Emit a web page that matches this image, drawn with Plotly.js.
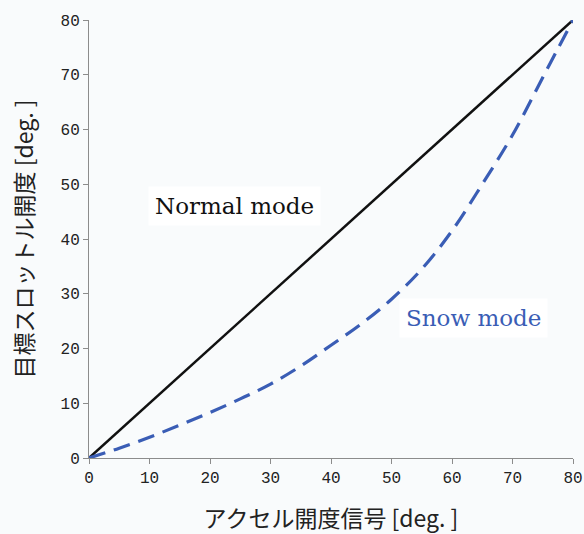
<!DOCTYPE html>
<html>
<head>
<meta charset="utf-8">
<script src="https://cdn.plot.ly/plotly-3.0.1.min.js"></script>
<style>html,body{margin:0;padding:0;background:#f9fbfc;}</style>
</head>
<body>
<div id="chart" style="width:584px;height:534px;"></div>
<script>
const normalX = [0, 80];
const normalY = [0, 80];
const snowX = [0, 5, 10, 15, 20, 25, 30, 35, 40, 45, 50, 55, 60, 65, 70, 75, 80];
const snowY = [0, 1.8, 3.8, 6, 8.3, 10.8, 13.5, 16.8, 20.6, 24.5, 29, 34.5, 41.5, 50, 59, 69.5, 80];
const tickVals = [0, 10, 20, 30, 40, 50, 60, 70, 80];
const xTitle = 'アクセル開度信号 [deg. ]';
const yTitle = '目標スロットル開度 [deg. ]';
const normalLabel = 'Normal mode';
const snowLabel = 'Snow mode';

const traces = [
  {x: normalX, y: normalY, mode: 'lines', line: {color: '#111111', width: 2.5}, hoverinfo: 'skip'},
  {x: snowX, y: snowY, mode: 'lines', line: {color: '#3a5db5', width: 3.2, dash: '17px,9px', shape: 'spline', smoothing: 1}, hoverinfo: 'skip'}
];

const axisCommon = {
  range: [0, 80], tickvals: tickVals, showgrid: false, zeroline: false,
  showline: true, linecolor: '#8c8c8c', linewidth: 1,
  ticks: 'outside', ticklen: 5, tickcolor: '#8c8c8c',
  tickfont: {family: 'Liberation Mono, monospace', size: 16, color: '#222'}
};

const layout = {
  width: 584, height: 534,
  margin: {l: 89, r: 11, t: 20, b: 76},
  paper_bgcolor: '#f9fbfc', plot_bgcolor: '#f9fbfc',
  showlegend: false,
  xaxis: Object.assign({}, axisCommon, {
    title: {text: xTitle, font: {family: 'Noto Sans CJK JP, Liberation Serif, serif', size: 23, color: '#222'}, standoff: 24}
  }),
  yaxis: Object.assign({}, axisCommon, {
    title: {text: yTitle, font: {family: 'Noto Sans CJK JP, Liberation Serif, serif', size: 23, color: '#222'}, standoff: 20}
  }),
  annotations: [
    {x: 24, y: 46, xref: 'x', yref: 'y', text: normalLabel, showarrow: false,
     font: {family: 'DejaVu Serif, serif', size: 23, color: '#111'},
     bgcolor: '#ffffff', borderpad: 6},
    {x: 63.5, y: 25.5, xref: 'x', yref: 'y', text: snowLabel, showarrow: false,
     font: {family: 'DejaVu Serif, serif', size: 23, color: '#3a5db5'},
     bgcolor: '#ffffff', borderpad: 6}
  ]
};

Plotly.newPlot('chart', traces, layout, {displayModeBar: false, staticPlot: true});
</script>
</body>
</html>
